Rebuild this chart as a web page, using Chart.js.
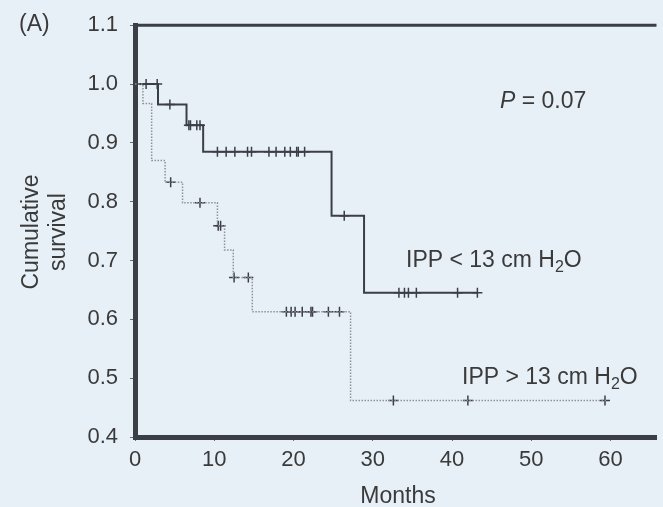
<!DOCTYPE html>
<html>
<head>
<meta charset="utf-8">
<script src="https://cdn.jsdelivr.net/npm/chart.js@4.4.1/dist/chart.umd.min.js"></script>
<style>
    html, body { margin: 0; padding: 0; background: #e8f0f7; }
    #wrap { width: 663px; height: 507px; position: relative; }
</style>
</head>
<body>
<div id="wrap"><canvas id="kmChart"></canvas></div>
<script>
// Kaplan-Meier steps: time of each drop (months) and survival after it
const lowTimes = [0, 2.9, 6.5, 8.6, 24.8, 28.9, 43.2];
const lowSurv = [1.0, 0.965, 0.930, 0.885, 0.776, 0.645, 0.645];
const lowCensored = [1.4, 2.8, 4.4, 6.8, 7.0, 7.8, 8.2, 10.4, 11.5, 12.6, 14.2, 14.7,
    16.9, 17.8, 18.9, 19.6, 20.4, 20.6, 21.4, 26.4, 33.3, 34.0, 34.5, 35.5, 40.7, 43.2];

const highTimes = [0, 1.0, 2.1, 3.8, 6.0, 10.4, 11.3, 12.4, 14.8, 27.2, 59.5];
const highSurv = [1.0, 0.967, 0.870, 0.833, 0.798, 0.759, 0.718, 0.671, 0.613, 0.462, 0.462];
const highCensored = [4.5, 8.2, 10.5, 10.8, 12.5, 14.3, 19.1, 19.7, 20.2, 21.1, 22.2,
    22.4, 24.4, 25.8, 32.6, 42.0, 59.3];

const xTicks = [0, 10, 20, 30, 40, 50, 60];
const yTicks = [0.4, 0.5, 0.6, 0.7, 0.8, 0.9, 1.0, 1.1];

const FONT = "'Liberation Sans', Arial, sans-serif";
const INK = '#3b3f45';

function survAt(times, surv, t) {
    let s = surv[0];
    for (let i = 0; i < times.length; i++) {
        if (times[i] <= t) s = surv[i];
    }
    return s;
}

const stepPoints = (times, surv) => times.map((t, i) => ({ x: t, y: surv[i] }));
const censorPoints = (list, times, surv) => list.map(t => ({ x: t, y: survAt(times, surv, t) }));

// text drawn straight on the canvas (title, labels, annotations)
const annotations = {
    id: 'annotations',
    afterDraw(chart) {
        const ctx = chart.ctx;
        const area = chart.chartArea;
        ctx.save();

        // top frame line
        ctx.strokeStyle = INK;
        ctx.lineWidth = 3;
        ctx.beginPath();
        ctx.moveTo(area.left - 2, area.top);
        ctx.lineTo(area.right, area.top);
        ctx.stroke();

        ctx.fillStyle = '#3a3a3a';
        ctx.textBaseline = 'middle';
        ctx.font = `23px ${FONT}`;
        ctx.textAlign = 'left';
        ctx.fillText('(A)', 19, 25);

        ctx.textAlign = 'center';
        ctx.fillText('Months', 398, 497);

        // y title, two lines rotated
        ctx.save();
        ctx.translate(44, 232);
        ctx.rotate(-Math.PI / 2);
        ctx.fillText('Cumulative', 0, -12);
        ctx.fillText('survival', 0, 15);
        ctx.restore();

        // P value
        ctx.textAlign = 'left';
        ctx.font = `italic 23px ${FONT}`;
        ctx.fillText('P', 500, 102);
        let w = ctx.measureText('P').width;
        ctx.font = `23px ${FONT}`;
        ctx.fillText(' = 0.07', 500 + w, 102);

        drawWithSub(ctx, 'IPP < 13 cm H', '2', 'O', 406, 261);
        drawWithSub(ctx, 'IPP > 13 cm H', '2', 'O', 462, 378);
        ctx.restore();
    }
};

function drawWithSub(ctx, head, sub, tail, x, y) {
    ctx.textAlign = 'left';
    ctx.font = `23px ${FONT}`;
    ctx.fillText(head, x, y);
    x += ctx.measureText(head).width;
    ctx.font = `16px ${FONT}`;
    ctx.fillText(sub, x, y + 7);
    x += ctx.measureText(sub).width;
    ctx.font = `23px ${FONT}`;
    ctx.fillText(tail, x, y);
}

const ctx = document.getElementById('kmChart').getContext('2d');
new Chart(ctx, {
    type: 'scatter',
    data: {
        datasets: [
            {
                label: 'IPP > 13 cm H2O',
                data: stepPoints(highTimes, highSurv),
                showLine: true,
                stepped: 'before',
                borderColor: '#8d9299',
                borderWidth: 1.5,
                borderDash: [1.5, 1.5],
                pointRadius: 0
            },
            {
                label: 'IPP < 13 cm H2O',
                data: stepPoints(lowTimes, lowSurv),
                showLine: true,
                stepped: 'before',
                borderColor: INK,
                borderWidth: 2,
                pointRadius: 0
            },
            {
                label: 'censored high',
                data: censorPoints(highCensored, highTimes, highSurv),
                pointStyle: 'cross',
                pointRadius: 5,
                borderColor: INK,
                borderWidth: 1.5,
                backgroundColor: INK
            },
            {
                label: 'censored low',
                data: censorPoints(lowCensored, lowTimes, lowSurv),
                pointStyle: 'cross',
                pointRadius: 5,
                borderColor: INK,
                borderWidth: 1.5,
                backgroundColor: INK
            }
        ]
    },
    options: {
        responsive: true,
        maintainAspectRatio: false,
        animation: false,
        layout: { padding: { top: 25, right: 0, bottom: 0, left: 0 } },
        plugins: {
            legend: { display: false },
            tooltip: { enabled: false }
        },
        scales: {
            x: {
                type: 'linear',
                min: 0,
                max: 65.8,
                afterBuildTicks: scale => { scale.ticks = xTicks.map(v => ({ value: v })); },
                afterFit: scale => { scale.height = 70; },
                border: { color: INK, width: 5 },
                grid: { drawOnChartArea: false, tickLength: 4, color: '#6a6e74' },
                ticks: {
                    color: '#3a3a3a',
                    padding: 6,
                    font: { family: FONT, size: 22 }
                }
            },
            y: {
                min: 0.4,
                max: 1.1,
                afterBuildTicks: scale => { scale.ticks = yTicks.map(v => ({ value: v })); },
                afterFit: scale => { scale.width = 135; },
                border: { color: INK, width: 5 },
                grid: { drawOnChartArea: false, tickLength: 5, color: '#6a6e74' },
                ticks: {
                    color: '#3a3a3a',
                    padding: 12,
                    font: { family: FONT, size: 22 },
                    callback: value => value.toFixed(1)
                }
            }
        }
    },
    plugins: [annotations]
});
</script>
</body>
</html>
